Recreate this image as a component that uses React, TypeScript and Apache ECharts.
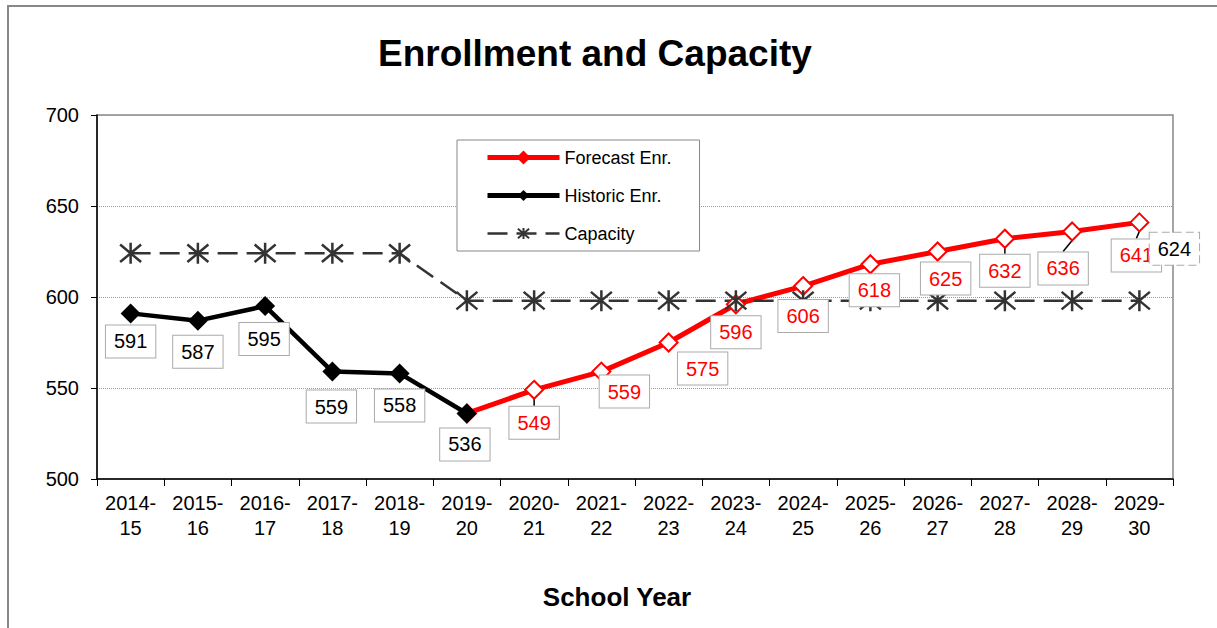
import React, { useEffect, useRef } from "react";
import * as echarts from "echarts";

const categories = [
  "2014-\n15", "2015-\n16", "2016-\n17", "2017-\n18", "2018-\n19", "2019-\n20",
  "2020-\n21", "2021-\n22", "2022-\n23", "2023-\n24", "2024-\n25", "2025-\n26",
  "2026-\n27", "2027-\n28", "2028-\n29", "2029-\n30",
];
const historic: (number | null)[] = [591, 587, 595, 559, 558, 536, null, null, null, null, null, null, null, null, null, null];
const forecast: (number | null)[] = [null, null, null, null, null, 536, 549, 559, 575, 596, 606, 618, 625, 632, 636, 641];
const capacity: number[] = [624, 624, 624, 624, 624, 598, 598, 598, 598, 598, 598, 598, 598, 598, 598, 598];
const capacityEndLabel = "624";
const yMin = 500;
const yMax = 700;
const yInterval = 50;

// label placement (layout only)
const histShift: [number, number][] = [[0, 28], [0, 31], [-1, 33], [-1, 35], [0, 32], [-2, 31]];
const fcShift: [number, number][] = [
  [0, 0], [0, 0], [0, 0], [0, 0], [0, 0], [0, 0],
  [0, 33], [23, 20], [34, 26], [0, 28], [0, 30], [4, 26], [8, 27], [0, 32], [-9, 37], [-3, 33],
];
const fcLeader = [false, false, false, false, false, false, true, false, false, false, false, false, false, true, true, true];

const FONT = "'Liberation Sans', Arial, sans-serif";

const labelBox = {
  show: true,
  position: "inside" as const,
  fontSize: 20,
  fontFamily: FONT,
  backgroundColor: "#fff",
  borderColor: "#aaa",
  borderWidth: 1,
  padding: [5, 8, 4, 8],
  lineHeight: 23,
};

const starPath = "path://M-10,-10L10,10M-10,10L10,-10M0,-12L0,12";

export default function App() {
  const ref = useRef<HTMLDivElement>(null);
  useEffect(() => {
    document.body.style.margin = "0";
    const chart = echarts.init(ref.current!, undefined, { renderer: "svg" });
    const option: any = {
      animation: false,
      backgroundColor: "#fff",
      textStyle: { fontFamily: FONT },
      graphic: [
        {
          type: "rect",
          shape: { x: 8, y: 6, width: 1400, height: 800 },
          style: { fill: "none", stroke: "#888", lineWidth: 2 },
          silent: true,
          z: -10,
        },
      ],
      title: {
        text: "Enrollment and Capacity",
        left: 378,
        top: 35,
        padding: 0,
        textStyle: { fontSize: 37, fontWeight: "bold", color: "#000", fontFamily: FONT },
      },
      legend: {
        orient: "vertical",
        left: 457,
        top: 140,
        padding: [8, 28, 8, 28],
        itemWidth: 72,
        itemHeight: 14,
        itemGap: 19,
        backgroundColor: "#fff",
        borderColor: "#888",
        borderWidth: 1,
        textStyle: { fontSize: 18, color: "#000", fontFamily: FONT, lineHeight: 19 },
        data: [
          {
            name: "Forecast Enr.",
            itemStyle: { color: "#ff0000", borderColor: "#ff0000" },
            lineStyle: { width: 5, color: "#ff0000" },
          },
          { name: "Historic Enr.", lineStyle: { width: 5, color: "#000" } },
          { name: "Capacity", lineStyle: { width: 2.5, color: "#333" } },
        ],
      },
      grid: {
        left: 97,
        right: 44,
        top: 115,
        bottom: 149,
        show: true,
        borderColor: "#888",
        borderWidth: 1.5,
        containLabel: false,
      },
      xAxis: {
        type: "category",
        data: categories,
        boundaryGap: true,
        axisLine: { lineStyle: { color: "#000", width: 1.5 } },
        axisTick: { show: true, length: 7, lineStyle: { color: "#000" } },
        axisLabel: { color: "#000", fontSize: 20, lineHeight: 25, margin: 11, fontFamily: FONT, interval: 0 },
        name: "School Year",
        nameLocation: "middle",
        nameGap: 105,
        nameTextStyle: { fontSize: 26, fontWeight: "bold", color: "#000", fontFamily: FONT, padding: [0, 36, 0, 0] },
      },
      yAxis: {
        type: "value",
        min: yMin,
        max: yMax,
        interval: yInterval,
        axisLine: { show: true, lineStyle: { color: "#000", width: 1.5 } },
        axisTick: { show: true, length: 6, lineStyle: { color: "#000" } },
        axisLabel: { color: "#000", fontSize: 20, margin: 18, fontFamily: FONT },
        splitLine: { show: true, lineStyle: { color: "#999", type: "dotted", width: 1 } },
      },
      series: [
        {
          name: "Forecast Enr.",
          type: "line",
          data: forecast.map((v, i) =>
            v === null
              ? null
              : i === 5
              ? { value: v, label: { show: false } }
              : { value: v, labelLine: { show: fcLeader[i] } }
          ),
          symbol: "diamond",
          symbolSize: 18,
          z: 3,
          lineStyle: { color: "#ff0000", width: 5 },
          itemStyle: { color: "#fff", borderColor: "#ff0000", borderWidth: 2 },
          label: { ...labelBox, color: "#ff0000" },
          labelLine: { show: false, minTurnAngle: 0, lineStyle: { color: "#000", width: 1.5 } },
          labelLayout: (p: any) => {
            const s = fcShift[p.dataIndex] || [0, 0];
            return { dx: s[0], dy: s[1] };
          },
        },
        {
          name: "Historic Enr.",
          type: "line",
          data: historic,
          symbol: "diamond",
          symbolSize: 20,
          z: 4,
          lineStyle: { color: "#000", width: 4.5 },
          itemStyle: { color: "#000" },
          label: { ...labelBox, color: "#000" },
          labelLayout: (p: any) => {
            const s = histShift[p.dataIndex] || [0, 0];
            return { dx: s[0], dy: s[1] };
          },
        },
        {
          name: "Capacity",
          type: "line",
          data: capacity.map((v, i) =>
            i === capacity.length - 1
              ? {
                  value: v,
                  label: {
                    ...labelBox,
                    color: "#000",
                    borderType: "dashed",
                    formatter: capacityEndLabel,
                  },
                }
              : v
          ),
          symbol: starPath,
          symbolSize: 21,
          z: 3,
          lineStyle: { color: "#333", width: 2.5, type: [20, 9] },
          itemStyle: { color: "#333", borderColor: "#333", borderWidth: 2.5 },
          label: { show: false },
          labelLayout: (p: any) => (p.dataIndex === capacity.length - 1 ? { dx: 35, dy: -52 } : {}),
        },
      ],
    };
    chart.setOption(option);
    return () => chart.dispose();
  }, []);
  return <div ref={ref} style={{ width: 1217, height: 628 }} />;
}
